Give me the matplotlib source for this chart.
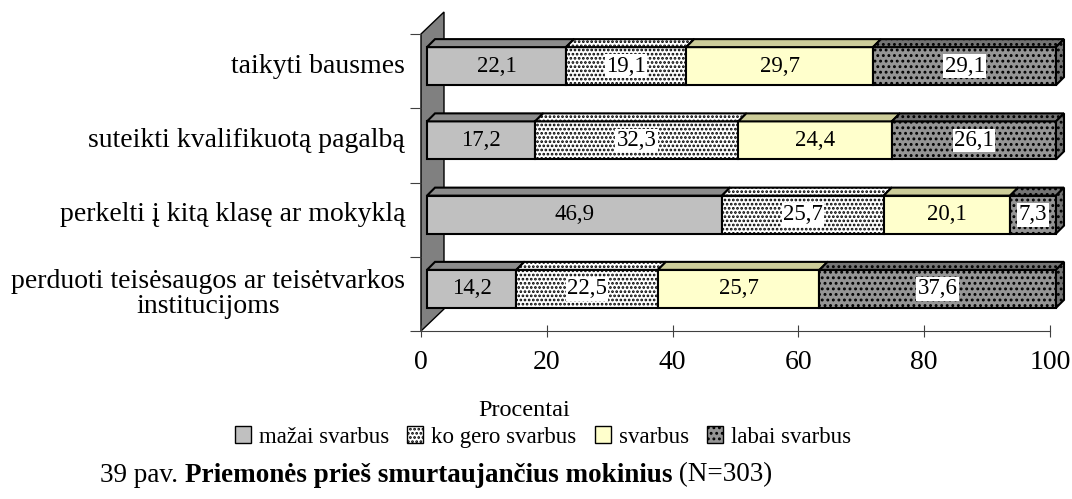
import matplotlib.pyplot as plt
from matplotlib.patches import Polygon, Patch

plt.rcParams['font.family'] = ['Liberation Serif', 'DejaVu Serif']
plt.rcParams['hatch.linewidth'] = 1.3

categories = ['perduoti teisėsaugos ar teisėtvarkos\ninstitucijoms',
              'perkelti į kitą klasę ar mokyklą',
              'suteikti kvalifikuotą pagalbą',
              'taikyti bausmes']
series = ['mažai svarbus', 'ko gero svarbus', 'svarbus', 'labai svarbus']
mazai = [14.2, 46.9, 17.2, 22.1]
ko_gero = [22.5, 25.7, 32.3, 19.1]
svarbus = [25.7, 20.1, 24.4, 29.7]
labai = [37.6, 7.3, 26.1, 29.1]
xticks = [0, 20, 40, 60, 80, 100]

# front colour, top colour, hatch, white box behind value
styles = [('#c0c0c0', '#8c8c8c', None, False),
          ('white', 'white', '....', True),
          ('#ffffcc', '#cccc99', None, False),
          ('#959595', '#737373', '...', True)]

W, H = 1072, 499
fig = plt.figure(figsize=(W / 100, H / 100), dpi=100)
px0, px1, ptop, pbot = 421, 1050, 34, 331
ax = fig.add_axes([px0 / W, 1 - pbot / H, (px1 - px0) / W, (pbot - ptop) / H])
ax.set_xlim(0, 100)
ax.set_ylim(0, 4)
ax.patch.set_visible(False)
sx = 100 / (px1 - px0)
sy = 4 / (pbot - ptop)

# back wall
wdx, wdy = 23 * sx, 22 * sy
ax.add_patch(Polygon([(0, 0), (0, 4), (wdx, 4 + wdy), (wdx, wdy)],
                     closed=True, facecolor='#808080', edgecolor='black',
                     lw=1, clip_on=False, zorder=1))

# bars: front face shifted, then depth
fx, fy = 6 * sx, 5 * sy
dx, dy = 8 * sx, 8 * sy
bh = 38 * sy
data = [mazai, ko_gero, svarbus, labai]
for i in range(len(categories)):
    yc = i + 0.5 + fy
    yb, yt = yc - bh / 2, yc + bh / 2
    left = 0
    for s, vals in enumerate(data):
        v = vals[i]
        fc, tc, hatch, box = styles[s]
        a, b = left + fx, left + v + fx
        ax.add_patch(Polygon([(a, yb), (b, yb), (b, yt), (a, yt)], closed=True,
                             facecolor=fc, edgecolor='black', hatch=hatch,
                             lw=1.5, clip_on=False, zorder=3))
        ax.add_patch(Polygon([(a, yt), (b, yt), (b + dx, yt + dy), (a + dx, yt + dy)],
                             closed=True, facecolor=tc, edgecolor='black',
                             hatch=hatch, lw=1.5, clip_on=False, zorder=3))
        if s == len(data) - 1:
            ax.add_patch(Polygon([(b, yb), (b + dx, yb + dy), (b + dx, yt + dy), (b, yt)],
                                 closed=True, facecolor=tc, edgecolor='black',
                                 hatch=hatch, lw=1.5, clip_on=False, zorder=3))
        lbl = str(v).replace('.', ',')
        kw = dict(facecolor='white', edgecolor='none', pad=1) if box else None
        ax.text((a + b) / 2, yc, lbl, ha='center', va='center', fontsize=16.5,
                bbox=kw, zorder=4)
        left += v
    ax.text(-16 * sx, i + 0.5 + (fy if i else 0), categories[i], ha='right',
            va='center', multialignment='center', linespacing=1.0,
            fontsize=20, clip_on=False)

for side in ['top', 'right', 'left']:
    ax.spines[side].set_visible(False)
ax.spines['bottom'].set_color('#404040')
ax.set_xticks(xticks)
ax.set_xticklabels([str(t) for t in xticks], fontsize=20)
ax.tick_params(axis='x', direction='inout', length=8, pad=10, color='#404040')
ax.set_yticks([0, 1, 2, 3, 4])
ax.set_yticklabels([])
ax.tick_params(axis='y', direction='out', length=8, color='#404040')

fig.text(524 / W, 1 - 410 / H, 'Procentai', ha='center', va='center', fontsize=17.5)

handles = [Patch(facecolor=st[0], edgecolor='black', hatch=st[2], lw=1) for st in styles]
fig.legend(handles, series, loc='center', bbox_to_anchor=(543 / W, 1 - 437 / H),
           ncol=4, frameon=False, fontsize=16.5, handlelength=0.7, handleheight=0.7,
           handletextpad=0.35, columnspacing=0.8, borderpad=0)

# caption with a bold middle part
parts = [('39 pav. ', 'normal'), ('Priemonės prieš smurtaujančius mokinius', 'bold'),
         (' (N=303)', 'normal')]
renderer = fig.canvas.get_renderer()
x = 100
for txt, wt in parts:
    t = fig.text(x / W, 1 - 475 / H, txt, ha='left', va='center', fontsize=19.5,
                 fontweight=wt)
    x += t.get_window_extent(renderer).width

fig.savefig('out.png', dpi=100)
